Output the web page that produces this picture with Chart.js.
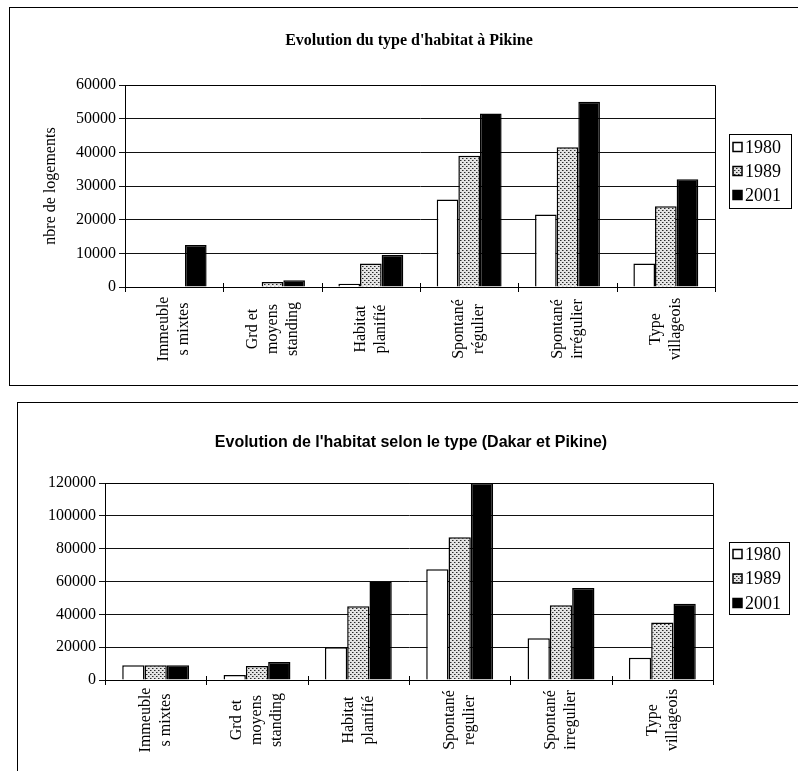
<!DOCTYPE html>
<html>
<head>
<meta charset="utf-8">
<script src="https://cdn.jsdelivr.net/npm/chart.js@4.4.0/dist/chart.umd.min.js"></script>
<style>
  html, body { margin: 0; padding: 0; background: #fff; }
  body { width: 798px; height: 771px; overflow: hidden; position: relative; }
  canvas { position: absolute; left: 0; }
  #c1 { top: 0; }
  #c2 { top: 392px; }
  .frame { position: absolute; border: 1px solid #000; pointer-events: none; }
  #f1 { left: 9px; top: 7px; width: 820px; height: 377px; }
  #f2 { left: 17px; top: 402px; width: 820px; height: 420px; }
</style>
</head>
<body>
<canvas id="c1" width="798" height="392"></canvas>
<canvas id="c2" width="798" height="379"></canvas>
<div class="frame" id="f1"></div>
<div class="frame" id="f2"></div>
<script>
// Housing types (rotated, multi-line category labels)
const categoriesPikine = [
  ["Immeuble", "s mixtes"],
  ["Grd et", "moyens", "standing"],
  ["Habitat", "planifié"],
  ["Spontané", "régulier"],
  ["Spontané", "irrégulier"],
  ["Type", "villageois"]
];
const categoriesDakarPikine = [
  ["Immeuble", "s mixtes"],
  ["Grd et", "moyens", "standing"],
  ["Habitat", "planifié"],
  ["Spontané", "regulier"],
  ["Spontané", "irregulier"],
  ["Type", "villageois"]
];
const years = ["1980", "1989", "2001"];

// Pikine: number of dwellings by type
const pikine1980 = [0, 0, 1000, 26000, 21500, 7000];
const pikine1989 = [0, 1500, 7000, 39000, 41500, 24000];
const pikine2001 = [12500, 2000, 9500, 51500, 55000, 32000];

// Dakar + Pikine: number of dwellings by type
const dakarPikine1980 = [9000, 3000, 20000, 67500, 25500, 13500];
const dakarPikine1989 = [9000, 8500, 45000, 87000, 45500, 35000];
const dakarPikine2001 = [9000, 11000, 60000, 120000, 56000, 46500];

// Value axis tick labels
const ticksPikine = [0, 10000, 20000, 30000, 40000, 50000, 60000];
const ticksDakarPikine = [0, 20000, 40000, 60000, 80000, 100000, 120000];

const titlePikine = "Evolution du type d'habitat à Pikine";
const titleDakarPikine = "Evolution de l'habitat selon le type (Dakar et Pikine)";
const yTitlePikine = "nbre de logements";

const SERIF = "'Liberation Serif', 'Times New Roman', serif";
const SANS = "'Liberation Sans', Arial, sans-serif";

// Fine stippled fill used for the middle series
function stipple() {
  const c = document.createElement('canvas');
  c.width = 4; c.height = 4;
  const g = c.getContext('2d');
  g.fillStyle = '#e4e4e4'; g.fillRect(0, 0, 4, 4);
  g.fillStyle = '#2a2a2a'; g.fillRect(0, 0, 1, 1); g.fillRect(2, 2, 1, 1);
  g.fillStyle = '#8a8a8a'; g.fillRect(1, 0, 1, 1); g.fillRect(3, 2, 1, 1);
  return g.createPattern(c, 'repeat');
}
const fills = ['#ffffff', stipple(), '#000000'];

// Plot frame, crossing category ticks, centred rotated labels, title and boxed legend
const decor = {
  id: 'decor',
  beforeDatasetsDraw(chart) {
    const { ctx, chartArea: a } = chart;
    ctx.save();
    ctx.strokeStyle = '#000';
    ctx.lineWidth = 1;
    ctx.beginPath();
    ctx.moveTo(a.left, Math.round(a.top) + 0.5);
    ctx.lineTo(Math.round(a.right) + 0.5, Math.round(a.top) + 0.5);
    ctx.lineTo(Math.round(a.right) + 0.5, a.bottom);
    ctx.stroke();
    ctx.restore();
  },
  afterDraw(chart, args, o) {
    const { ctx, chartArea: a } = chart;
    const xs = chart.scales.x;
    const labels = chart.data.labels;
    ctx.save();

    // category boundary tick marks crossing the axis
    ctx.strokeStyle = '#000';
    ctx.lineWidth = 1;
    for (let i = 0; i <= labels.length; i++) {
      const bx = Math.round(xs.getPixelForValue(i - 0.5)) + 0.5;
      ctx.beginPath();
      ctx.moveTo(bx, a.bottom - 4);
      ctx.lineTo(bx, a.bottom + 5);
      ctx.stroke();
    }

    // rotated category labels, each line centred
    ctx.fillStyle = '#000';
    ctx.font = o.labelFont;
    ctx.textAlign = 'center';
    ctx.textBaseline = 'middle';
    labels.forEach((lines, i) => {
      const cx = xs.getPixelForValue(i);
      lines.forEach((line, j) => {
        const lx = cx + (j - (lines.length - 1) / 2) * o.lineStep;
        ctx.save();
        ctx.translate(lx, o.labelCenterY);
        ctx.rotate(-Math.PI / 2);
        ctx.fillText(line, 0, 0);
        ctx.restore();
      });
    });

    // chart title
    ctx.font = o.titleFont;
    ctx.fillText(o.title, o.titleX, o.titleY);

    // legend
    const lb = o.legend;
    ctx.lineWidth = 1;
    ctx.strokeRect(lb.x + 0.5, lb.y + 0.5, lb.w, lb.h);
    ctx.font = lb.font;
    ctx.textAlign = 'left';
    chart.data.datasets.forEach((ds, k) => {
      const ry = lb.y + lb.first + k * lb.step;
      ctx.fillStyle = ds.backgroundColor;
      ctx.fillRect(lb.x + 4, ry - 4.5, 9, 9);
      ctx.strokeStyle = '#000';
      ctx.lineWidth = 1.5;
      ctx.strokeRect(lb.x + 4, ry - 4.5, 9, 9);
      ctx.fillStyle = '#000';
      ctx.fillText(ds.label, lb.x + 16, ry + 1);
    });
    ctx.restore();
  }
};

function buildChart(id, cats, series, yTicks, opts) {
  return new Chart(document.getElementById(id), {
    type: 'bar',
    data: {
      labels: cats,
      datasets: series.map((vals, k) => ({
        label: years[k],
        data: vals,
        backgroundColor: fills[k],
        borderColor: '#000',
        borderWidth: 1.5,
        categoryPercentage: 0.66,
        barPercentage: 1.0
      }))
    },
    options: {
      responsive: false,
      animation: false,
      devicePixelRatio: 1,
      layout: { padding: opts.padding },
      plugins: {
        legend: { display: false },
        title: { display: false },
        tooltip: { enabled: false },
        decor: opts.decor
      },
      scales: {
        x: {
          grid: { display: true, drawOnChartArea: false, drawTicks: false },
          border: { display: true, color: '#000', width: 1 },
          ticks: { display: false },
          afterFit: s => { s.height = opts.xHeight; }
        },
        y: {
          min: yTicks[0],
          max: yTicks[yTicks.length - 1],
          afterBuildTicks: s => { s.ticks = yTicks.map(v => ({ value: v })); },
          afterFit: s => { s.width = opts.yWidth; },
          grid: { color: '#111', lineWidth: 1, drawTicks: true, tickLength: 6 },
          border: { display: true, color: '#000', width: 1 },
          ticks: {
            color: '#000',
            padding: 3,
            font: { family: SERIF, size: 16 },
            callback: v => String(v)
          },
          title: opts.yTitle
            ? { display: true, text: opts.yTitle, color: '#000',
                font: { family: SERIF, size: 16 }, padding: { top: 41, bottom: 0 } }
            : { display: false }
        }
      }
    },
    plugins: [decor]
  });
}

buildChart('c1', categoriesPikine, [pikine1980, pikine1989, pikine2001], ticksPikine, {
  padding: { top: 85, right: 83, bottom: 0, left: 0 },
  xHeight: 105,
  yWidth: 125,
  yTitle: yTitlePikine,
  decor: {
    title: titlePikine,
    titleFont: "bold 16px " + SERIF,
    titleX: 409, titleY: 41,
    labelFont: "16px " + SERIF,
    labelCenterY: 329,
    lineStep: 20,
    legend: { x: 729, y: 134, w: 62, h: 74, first: 13, step: 24, font: "18px " + SERIF }
  }
});

buildChart('c2', categoriesDakarPikine, [dakarPikine1980, dakarPikine1989, dakarPikine2001], ticksDakarPikine, {
  padding: { top: 91, right: 85, bottom: 0, left: 0 },
  xHeight: 91,
  yWidth: 105,
  yTitle: null,
  decor: {
    title: titleDakarPikine,
    titleFont: "bold 16px " + SANS,
    titleX: 411, titleY: 51,
    labelFont: "16px " + SERIF,
    labelCenterY: 328,
    lineStep: 20,
    legend: { x: 729, y: 150, w: 60, h: 72, first: 12, step: 24.5, font: "18px " + SERIF }
  }
});
</script>
</body>
</html>
